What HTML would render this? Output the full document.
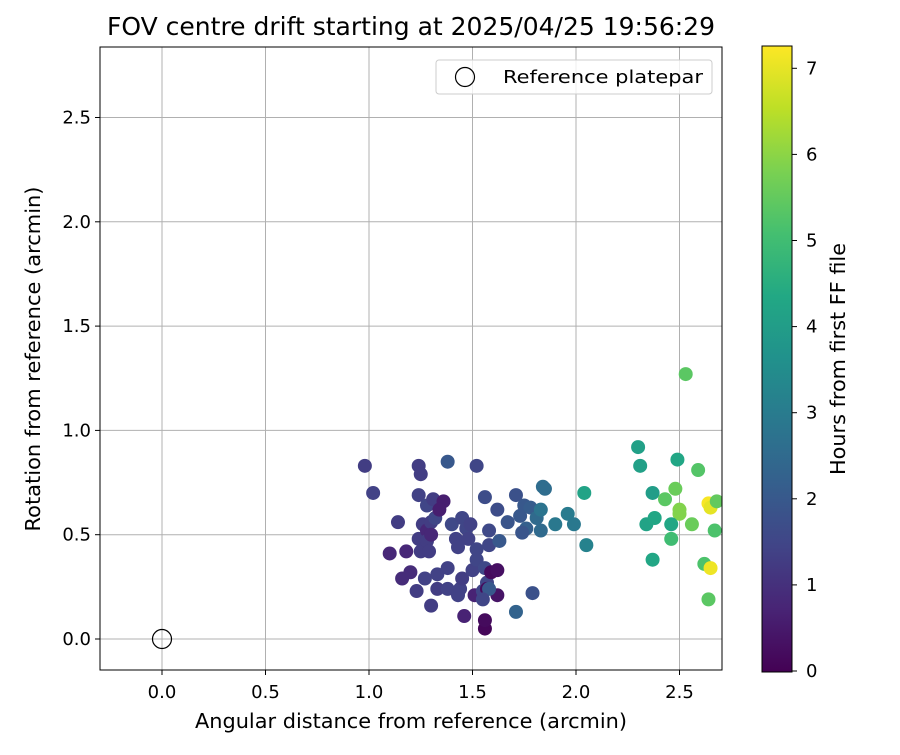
<!DOCTYPE html>
<html><head><meta charset="utf-8"><style>
body{margin:0;background:#fff;font-family:"Liberation Sans","DejaVu Sans",sans-serif}
</style></head><body>
<svg id="chart" width="900" height="750" xmlns="http://www.w3.org/2000/svg" font-family="DejaVu Sans, Liberation Sans, sans-serif">
<defs><linearGradient id="vir" x1="0" y1="1" x2="0" y2="0">
<stop offset="0" stop-color="#440154"/><stop offset="0.1" stop-color="#482475"/><stop offset="0.2" stop-color="#414487"/><stop offset="0.3" stop-color="#355f8d"/><stop offset="0.4" stop-color="#2a788e"/><stop offset="0.5" stop-color="#21918c"/><stop offset="0.6" stop-color="#22a884"/><stop offset="0.7" stop-color="#44bf70"/><stop offset="0.8" stop-color="#7ad151"/><stop offset="0.9" stop-color="#bddf26"/><stop offset="1" stop-color="#fde725"/>
</linearGradient><clipPath id="pc"><rect x="100" y="47" width="622" height="623"/></clipPath></defs>
<text x="411" y="35" font-size="24.5" text-anchor="middle" textLength="608" lengthAdjust="spacingAndGlyphs">FOV centre drift starting at 2025/04/25 19:56:29</text>
<g id="grid"></g>
<g id="pts" clip-path="url(#pc)"></g>
<circle id="refc" r="9.5" fill="none" stroke="#000" stroke-width="1.2"/>
<rect x="100" y="47" width="622" height="623" fill="none" stroke="#000" stroke-width="1"/>
<g id="ticks" font-size="18"></g>
<text x="411" y="728" font-size="20" text-anchor="middle" textLength="432" lengthAdjust="spacingAndGlyphs">Angular distance from reference (arcmin)</text>
<text transform="translate(40,359) rotate(-90)" font-size="20" text-anchor="middle" textLength="345" lengthAdjust="spacingAndGlyphs">Rotation from reference (arcmin)</text>
<g>
<rect x="436" y="60" width="276" height="34" rx="3" fill="#fff" fill-opacity="0.8" stroke="#ccc"/>
<circle cx="465" cy="77" r="9.5" fill="none" stroke="#000" stroke-width="1.2"/>
<text x="503" y="83" font-size="18" textLength="200" lengthAdjust="spacingAndGlyphs">Reference platepar</text>
</g>
<rect x="762" y="46" width="30" height="626" fill="url(#vir)" stroke="#000" stroke-width="1"/>
<g id="cbt" font-size="18"></g>
<text transform="translate(845,359) rotate(-90)" font-size="20" text-anchor="middle" textLength="232" lengthAdjust="spacingAndGlyphs">Hours from first FF file</text>
</svg>
<script>
const xs=[0.98,1.02,1.10,1.14,1.16,1.18,1.20,1.23,1.24,1.25,1.24,1.24,1.25,1.26,1.27,1.28,1.28,1.28,1.29,1.30,1.31,1.32,1.33,1.33,1.30,1.30,1.36,1.34,1.38,1.38,1.38,1.40,1.42,1.43,1.44,1.45,1.43,1.45,1.47,1.48,1.49,1.50,1.51,1.52,1.52,1.52,1.55,1.56,1.56,1.57,1.58,1.58,1.59,1.57,1.62,1.56,1.56,1.46,1.58,1.62,1.55,1.63,1.67,1.71,1.73,1.75,1.76,1.74,1.78,1.81,1.83,1.84,1.85,1.83,1.90,1.96,1.99,2.04,2.05,1.71,1.79,1.62,
2.30,2.31,2.53,2.49,2.59,2.37,2.43,2.48,2.50,2.50,2.34,2.38,2.46,2.56,2.46,2.37,2.64,2.65,2.67,2.68,2.62,2.65,2.64];
const ys=[0.83,0.70,0.41,0.56,0.29,0.42,0.32,0.23,0.83,0.79,0.69,0.48,0.42,0.55,0.29,0.52,0.64,0.47,0.42,0.56,0.67,0.58,0.31,0.24,0.16,0.50,0.66,0.62,0.24,0.34,0.85,0.55,0.48,0.44,0.24,0.29,0.21,0.58,0.53,0.48,0.55,0.33,0.21,0.83,0.43,0.38,0.23,0.68,0.34,0.27,0.52,0.45,0.32,0.24,0.21,0.05,0.09,0.11,0.24,0.33,0.19,0.47,0.56,0.69,0.59,0.64,0.53,0.51,0.63,0.58,0.52,0.73,0.72,0.62,0.55,0.60,0.55,0.70,0.45,0.13,0.22,0.62,
0.92,0.83,1.27,0.86,0.81,0.70,0.67,0.72,0.62,0.60,0.55,0.58,0.55,0.55,0.48,0.38,0.65,0.63,0.52,0.66,0.36,0.34,0.19];
const hours=[1.3,1.4,0.8,1.3,0.9,0.8,0.9,1.3,1.3,1.3,1.4,1.3,1.3,1.3,1.4,0.8,1.5,1.3,1.3,1.3,1.3,1.5,1.4,1.3,1.3,0.8,0.6,0.6,1.4,1.4,2.0,1.6,1.4,1.4,1.4,1.3,1.4,1.5,1.5,1.4,1.4,1.4,0.7,1.5,1.5,1.5,1.5,1.7,1.6,1.5,1.6,1.5,0.2,0.2,0.4,0.1,0.2,0.7,2.0,0.3,1.5,2.0,1.9,1.8,2.0,2.0,2.2,1.9,2.1,2.5,2.5,2.6,2.6,2.8,2.9,3.0,2.9,4.2,3.2,2.3,1.8,1.7,
4.1,4.1,5.4,4.3,5.3,4.0,5.4,5.6,5.9,5.9,4.2,4.3,4.3,5.6,5.0,4.3,7.2,7.0,5.2,5.5,5.2,7.1,5.4];
const xTicks=[0,0.5,1,1.5,2,2.5], xTickLabels=["0.0","0.5","1.0","1.5","2.0","2.5"];
const yTicks=[0,0.5,1,1.5,2,2.5], yTickLabels=["0.0","0.5","1.0","1.5","2.0","2.5"];
const cTicks=[0,1,2,3,4,5,6,7];
const X=v=>162+v*207, Y=v=>639-v*208.6, C=v=>671-v*86.1;
const vir=["#440154","#482475","#414487","#355f8d","#2a788e","#21918c","#22a884","#44bf70","#7ad151","#bddf26","#fde725"];
function hex(c){return [1,3,5].map(i=>parseInt(c.substr(i,2),16));}
function col(h){let t=Math.max(0,Math.min(1,h/7.27))*10,i=Math.min(9,Math.floor(t)),f=t-i;let a=hex(vir[i]),b=hex(vir[i+1]);return "rgb("+a.map((v,k)=>Math.round(v+(b[k]-v)*f)).join(",")+")";}
const NS="http://www.w3.org/2000/svg";
function mk(tag,at,parent){const e=document.createElementNS(NS,tag);for(const k in at)e.setAttribute(k,at[k]);document.getElementById(parent).appendChild(e);return e;}
xTicks.forEach((v,i)=>{
 let g=mk("line",{x1:X(v),x2:X(v),y1:47,y2:670,stroke:"#b0b0b0","stroke-width":1},"grid");
 
 
 let t=mk("line",{x1:X(v),x2:X(v),y1:670,y2:675,stroke:"#000"},"ticks");
 
 
 let l=mk("text",{x:X(v),y:698,"text-anchor":"middle"},"ticks");l.textContent=xTickLabels[i];
 
 
});
yTicks.forEach((v,i)=>{
 let g=mk("line",{x1:100,x2:722,y1:Y(v),y2:Y(v),stroke:"#b0b0b0","stroke-width":1},"grid");
 
 
 let t=mk("line",{x1:95,x2:100,y1:Y(v),y2:Y(v),stroke:"#000"},"ticks");
 
 
 let l=mk("text",{x:91,y:Y(v)+6,"text-anchor":"end"},"ticks");l.textContent=yTickLabels[i];
 
 
});
cTicks.forEach(v=>{
 let t=mk("line",{x1:792,x2:797,y1:C(v),y2:C(v),stroke:"#000"},"cbt");
 
 
 let l=mk("text",{x:806,y:C(v)+6},"cbt");l.textContent=String(v);
 
 
});
xs.forEach((v,i)=>{
 let p=mk("circle",{cx:X(v),cy:Y(ys[i]),r:7,fill:col(hours[i])},"pts");
 
 
});
const rc=document.getElementById("refc");rc.setAttribute("cx",X(0));rc.setAttribute("cy",Y(0));
</script>
</body></html>
